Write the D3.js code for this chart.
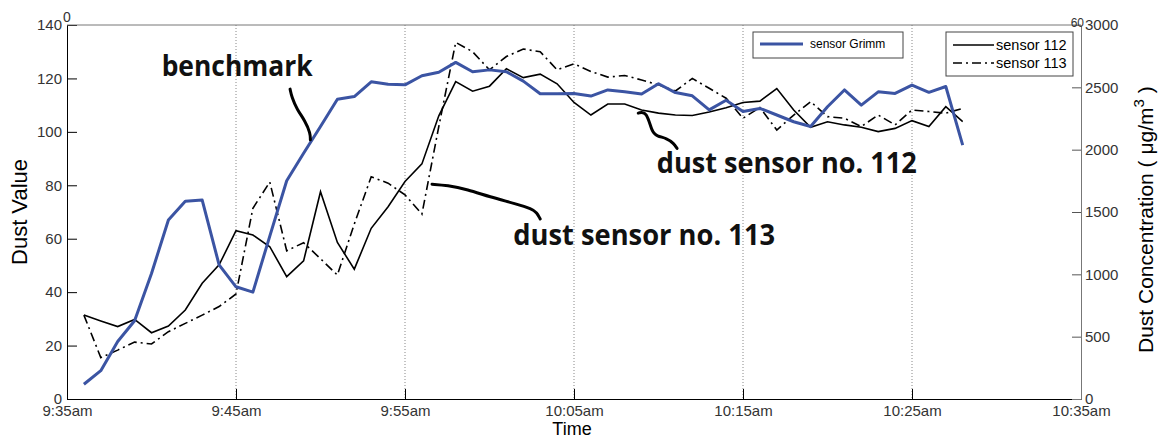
<!DOCTYPE html>
<html>
<head>
<meta charset="utf-8">
<script src="https://cdn.jsdelivr.net/npm/d3@7"></script>
<style>
  body { margin: 0; background: #fff; }
  svg text { font-family: Arial, "Liberation Sans", Helvetica, sans-serif; }
</style>
</head>
<body>
<div id="chart"></div>
<script>
const times = ["9:36","9:37","9:38","9:39","9:40","9:41","9:42","9:43","9:44","9:45",
  "9:46","9:47","9:48","9:49","9:50","9:51","9:52","9:53","9:54","9:55",
  "9:56","9:57","9:58","9:59","10:00","10:01","10:02","10:03","10:04","10:05",
  "10:06","10:07","10:08","10:09","10:10","10:11","10:12","10:13","10:14","10:15",
  "10:16","10:17","10:18","10:19","10:20","10:21","10:22","10:23","10:24","10:25",
  "10:26","10:27","10:28"];

// benchmark, right axis (ug/m3)
const grimm = [118,227,461,628,1007,1436,1586,1596,1076,900,
  857,1307,1751,1971,2186,2404,2426,2544,2524,2520,
  2593,2621,2700,2625,2640,2625,2550,2449,2449,2451,
  2430,2479,2464,2447,2529,2458,2432,2319,2396,2306,
  2331,2278,2224,2186,2344,2479,2357,2464,2451,2518,
  2460,2507,2036];

// dust value, left axis
const sensor112 = [31.4,29.2,27.1,29.8,24.8,27.3,33.3,43.3,50.2,63,
  61.4,57,45.8,51.7,77.6,58.6,48.6,63.9,72,81.4,
  88,106,118.8,115.2,117.1,123.6,120.3,121.6,118,111,
  106.3,110.4,110.4,108.2,107,106.3,106.1,107.4,109,111,
  111.5,116.2,108.2,101.7,103.8,102.6,101.7,100.1,101.3,104.2,
  102,109.4,103.8];

const sensor113 = [31.4,15.5,18.3,21.3,20.6,25.2,28.3,31.4,34.6,39.3,
  71.4,81.2,55.5,58.5,52.5,46.4,65.5,83.2,80.8,76.4,
  69.2,102,133.5,130,123.2,128.2,131,130,123.2,125.5,
  122.6,120.5,121.1,119.4,117.6,115.3,120,116.3,112.6,105.1,
  109.1,100.7,106.3,111.3,105.7,105.1,102,106.3,102.6,108.2,
  107.6,107,108.8];

const xTickTimes = ["9:35","9:45","9:55","10:05","10:15","10:25","10:35"];
const leftTicks = [0,20,40,60,80,100,120,140];
const rightTicks = [0,500,1000,1500,2000,2500,3000];

// annotation arrows: [minutes after 9:35, dust value]
const arrowBench = [[13.2,116],[13.3,113],[13.6,108.5],[14.1,104],[14.4,99.5],[14.4,97]];
const arrow113 = [[21.6,80.4],[22.5,80],[23.7,78.4],[25.0,75.7],[26.6,73],[27.5,71.2],[27.8,69.8],[28.0,67.4]];
const arrow112 = [[33.8,107],[34.3,107.8],[34.6,100],[34.9,98.4],[35.5,97.6],[35.9,95.7],[36.1,93.8]];

const W = 1163, H = 438;
const margin = { top: 25, right: 82, bottom: 39, left: 67 };
const width = W - margin.left - margin.right,
  height = H - margin.top - margin.bottom;

const parse = d3.timeParse("%H:%M");
const t0 = parse("9:35"), t1 = parse("10:35");

const svg = d3.select("#chart").append("svg")
  .attr("width", W).attr("height", H);
const g = svg.append("g").attr("transform", `translate(${margin.left},${margin.top})`);

const x = d3.scaleTime().domain([t0, t1]).range([0, width]);
const y = d3.scaleLinear().domain([0, 140]).range([height, 0]);
const y2 = d3.scaleLinear().domain([0, 3000]).range([height, 0]);

const fmt = d => d3.timeFormat("%-I:%M%p")(d).toLowerCase();
const xTicks = xTickTimes.map(parse);

// dotted grid
g.append("g").selectAll("line")
  .data(xTicks.slice(1, -1))
  .join("line")
  .attr("x1", d => x(d)).attr("x2", d => x(d))
  .attr("y1", 0).attr("y2", height)
  .attr("stroke", "#888").attr("stroke-width", 1)
  .attr("stroke-dasharray", "1,2");

// axes
const xAxis = g.append("g")
  .attr("transform", `translate(0,${height})`)
  .call(d3.axisBottom(x).tickValues(xTicks).tickFormat(fmt).tickSize(-10).tickPadding(6));
const yAxis = g.append("g")
  .call(d3.axisLeft(y).tickValues(leftTicks).tickSize(-10).tickPadding(5));
const yAxis2 = g.append("g")
  .attr("transform", `translate(${width},0)`)
  .call(d3.axisRight(y2).tickValues(rightTicks).tickFormat(d3.format("d")).tickSize(-9).tickPadding(4));

[xAxis, yAxis, yAxis2].forEach(a => {
  a.selectAll("text").style("font-size", "15px").attr("fill", "#333");
  a.select(".domain").attr("stroke", "#000");
});
yAxis2.select(".domain").attr("stroke", "#777");
yAxis2.selectAll(".tick line").attr("stroke", "#555");
yAxis2.selectAll(".tick").filter(d => d === 0 || d === 3000).select("line").remove();

// top border
g.append("line")
  .attr("x1", 0).attr("x2", width).attr("y1", 0).attr("y2", 0)
  .attr("stroke", "#777");

// stray labels from the overlaid axes
svg.append("text").attr("x", margin.left - 4).attr("y", 22)
  .style("font-size", "14px").attr("fill", "#333").text("0");
svg.append("text").attr("x", margin.left + width + 3).attr("y", 27)
  .attr("text-anchor", "end")
  .style("font-size", "12px").attr("fill", "#333").text("60");

// lines
const pts = vals => vals.map((v, i) => ({ t: parse(times[i]), v }));
const line = d3.line().x(d => x(d.t)).y(d => y(d.v));
const line2 = d3.line().x(d => x(d.t)).y(d => y2(d.v));

g.append("path").datum(pts(sensor112))
  .attr("d", line).attr("fill", "none")
  .attr("stroke", "#000").attr("stroke-width", 1.6);
g.append("path").datum(pts(sensor113))
  .attr("d", line).attr("fill", "none")
  .attr("stroke", "#000").attr("stroke-width", 1.6)
  .attr("stroke-dasharray", "9,4,2,4");
g.append("path").datum(pts(grimm))
  .attr("d", line2).attr("fill", "none")
  .attr("stroke", "#3b54a3").attr("stroke-width", 3)
  .attr("stroke-linejoin", "round");

// annotations
const ax = m => x(new Date(t0.getTime() + m * 60000));
const arrow = d3.line().x(d => ax(d[0])).y(d => y(d[1])).curve(d3.curveBasis);
[arrowBench, arrow113, arrow112].forEach(a => {
  g.append("path").datum(a).attr("d", arrow)
    .attr("fill", "none").attr("stroke", "#000")
    .attr("stroke-width", 3).attr("stroke-linecap", "round");
});

const notes = [
  { text: "benchmark", m: 5.6, v: 121, len: 151 },
  { text: "dust sensor no. 113", m: 26.4, v: 57.8, len: 262 },
  { text: "dust sensor no. 112", m: 34.9, v: 84.5, len: 260 }
];
g.selectAll("text.note").data(notes).join("text")
  .attr("class", "note")
  .attr("x", d => ax(d.m)).attr("y", d => y(d.v))
  .attr("textLength", d => d.len).attr("lengthAdjust", "spacingAndGlyphs")
  .style("font-family", "'Open Sans', 'DejaVu Sans', sans-serif")
  .style("font-weight", "bold").style("font-size", "29px")
  .attr("fill", "#111")
  .text(d => d.text);

// axis titles
svg.append("text")
  .attr("transform", "translate(27,212) rotate(-90)")
  .attr("text-anchor", "middle").style("font-size", "22px")
  .text("Dust Value");
svg.append("text")
  .attr("x", 572).attr("y", 435)
  .attr("text-anchor", "middle").style("font-size", "18px")
  .text("Time");
const rt = svg.append("text")
  .attr("transform", "translate(1153,353) rotate(-90)")
  .style("font-size", "21px");
rt.append("tspan").text("Dust Concentration ( \u03bcg/m");
rt.append("tspan").attr("dy", -9).style("font-size", "15px").text("3");
rt.append("tspan").attr("dy", 9).text(" )");

// legends
const leg1 = svg.append("g").attr("transform", "translate(753,32)");
leg1.append("rect").attr("width", 150).attr("height", 26)
  .attr("fill", "#fff").attr("stroke", "#444");
leg1.append("line").attr("x1", 7).attr("x2", 50).attr("y1", 12).attr("y2", 12)
  .attr("stroke", "#3b54a3").attr("stroke-width", 3);
leg1.append("text").attr("x", 57).attr("y", 16)
  .style("font-size", "12px").text("sensor Grimm");

const leg2 = svg.append("g").attr("transform", "translate(946,32)");
leg2.append("rect").attr("width", 127).attr("height", 44)
  .attr("fill", "#fff").attr("stroke", "#444");
const leg2Items = [
  { name: "sensor 112", dash: null },
  { name: "sensor 113", dash: "9,4,2,4" }
];
leg2Items.forEach((d, i) => {
  leg2.append("line").attr("x1", 7).attr("x2", 48)
    .attr("y1", 13 + i * 18).attr("y2", 13 + i * 18)
    .attr("stroke", "#000").attr("stroke-width", 1.6)
    .attr("stroke-dasharray", d.dash);
  leg2.append("text").attr("x", 50).attr("y", 18 + i * 18)
    .style("font-size", "14.5px").text(d.name);
});
</script>
</body>
</html>
